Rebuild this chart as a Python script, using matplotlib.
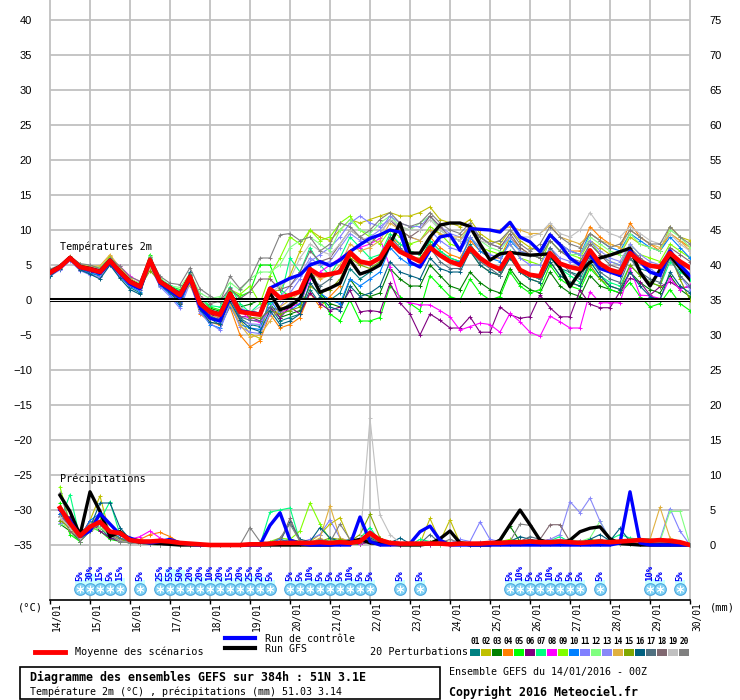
import numpy as np
import matplotlib
matplotlib.use('Agg')
import matplotlib.pyplot as plt
from matplotlib.lines import Line2D
from matplotlib.patches import Rectangle

W, H = 740, 700
MONO = 'DejaVu Sans Mono'

days = ['14/01', '15/01', '16/01', '17/01', '18/01', '19/01', '20/01', '21/01', '22/01',
        '23/01', '24/01', '25/01', '26/01', '27/01', '28/01', '29/01', '30/01']

member_colors = ['#008080', '#c0c000', '#008000', '#ff8000', '#00ff00', '#800080', '#00ff80',
                 '#ff00ff', '#80ff00', '#0080ff', '#8080ff', '#80ff80', '#8888f8', '#e0b040',
                 '#80a800', '#006080', '#507080', '#806870', '#c0c0c0', '#808080']

# temperature 2m, every 6h from 14/01 00Z (65 values)
t_mean = [3.9, 4.7, 6.0, 4.7, 4.4, 4.0, 5.6, 4.0, 2.6, 1.9, 5.7, 2.6, 1.7, 0.7, 3.3, -0.5, -1.7, -2.1, 0.9, -1.7, -1.9, -2.1,
          1.6, 0.3, 0.7, 1.2, 4.4, 3.5, 3.7, 4.0, 6.8, 5.5, 5.2, 6.0, 8.3, 6.9, 6.2, 5.5, 7.5, 6.4, 5.5, 5.0, 7.4,
          6.0, 5.0, 4.4, 6.7, 4.3, 3.6, 3.4, 6.7, 5.2, 4.7, 4.4, 7.1, 5.2, 4.3, 3.9, 6.7, 5.5, 4.9, 4.7, 6.7, 5.5, 4.6]
t_ctrl = [3.8, 4.6, 6.0, 4.6, 4.3, 3.8, 5.4, 3.8, 2.3, 1.6, 5.5, 2.4, 1.4, 0.3, 3.0, -1.0, -2.6, -3.0, 0.5, -1.5, -1.8, -2.0,
          1.7, 2.4, 3.1, 3.6, 5.0, 5.5, 4.9, 5.7, 6.9, 7.9, 8.8, 9.3, 10.0, 9.7, 5.4, 4.7, 7.1, 9.0, 9.3, 7.1, 10.2,
          10.1, 10.0, 9.7, 11.1, 9.0, 8.3, 6.9, 9.3, 7.9, 6.0, 5.0, 6.5, 4.5, 4.0, 3.5, 7.0, 5.5, 4.0, 3.5, 7.0, 5.0, 3.5]
t_gfs = [4.0, 4.8, 6.1, 4.8, 4.5, 4.1, 5.7, 4.1, 2.7, 2.0, 5.8, 2.7, 1.8, 0.8, 3.4, -0.4, -1.6, -2.0, 1.0, -1.6, -1.8, -2.0,
         1.0, -1.4, -0.9, 0.2, 3.9, 1.1, 1.7, 2.4, 5.7, 3.7, 4.2, 5.0, 7.9, 11.0, 6.7, 6.7, 9.0, 10.7, 11.0, 11.0, 10.5,
         8.0, 5.7, 6.6, 6.8, 6.6, 6.4, 6.5, 6.6, 4.6, 1.9, 4.0, 5.4, 6.0, 6.4, 6.9, 7.4, 4.0, 2.0, 4.3, 6.4, 4.6, 2.9]

t01 = [3.5, 4.9, 6.1, 4.5, 3.9, 3.4, 5.3, 3.5, 1.8, 1.0, 5.0, 2.0, 1.1, -0.3, 3.6, -1.2, -2.6, -3.6, 0.2, -2.6, -3.5, -3.8] + \
      [-1.0, -3.0, -2.5, -2.0, 1.5, -0.5, 0.0, 1.0, 4.5, 3.0, 4.0, 5.5, 8.0, 7.0, 6.0, 5.5, 8.5, 7.0, 6.0, 5.5,
       8.0, 6.0, 5.0, 4.0, 6.5, 4.5, 3.5, 3.0, 6.0, 4.5, 4.0, 3.5, 6.5, 5.0, 4.0, 3.5, 6.0, 4.5, 4.0, 3.5, 6.0, 4.5, 3.0]
t02 = [4.2, 4.8, 6.2, 5.0, 4.8, 4.6, 6.3, 4.4, 3.0, 2.3, 4.9, 2.9, 1.9, 0.4, 2.1, -0.9, -2.3, -2.0, -0.6, -2.9, -4.8, -5.5] + \
      [1.0, 1.5, 3.5, 7.0, 10.0, 9.0, 8.5, 10.0, 11.5, 11.0, 11.5, 12.0, 12.5, 12.0, 12.0, 12.5, 13.3, 11.5, 11.0, 10.5,
       11.5, 9.5, 8.5, 8.0, 10.0, 8.5, 7.5, 7.0, 9.5, 8.0, 7.0, 6.5, 8.5, 7.5, 6.5, 6.5, 9.0, 8.0, 7.5, 7.0, 10.5, 9.0, 8.5]
t03 = [4.0, 4.6, 5.9, 4.9, 4.6, 3.7, 5.4, 3.8, 2.4, 1.8, 5.6, 2.5, 1.5, 1.0, 3.8, 0.0, -1.2, -1.6, 1.2, -1.0, -0.6, 0.0] + \
      [-0.5, -2.5, -2.0, -1.5, 5.0, 1.0, -0.5, -1.0, 3.0, 1.0, 0.5, 1.0, 4.5, 3.0, 2.0, 2.0, 5.0, 3.5, 2.0, 1.5,
       4.0, 2.5, 1.5, 1.0, 4.5, 2.5, 1.5, 1.0, 4.0, 2.0, 1.0, 0.5, 3.5, 2.0, 1.5, 1.0, 4.0, 2.5, 1.5, 1.0, 3.5, 1.5, 0.5]
t04 = [4.1, 4.5, 5.8, 4.6, 4.2, 4.1, 5.8, 4.2, 2.9, 2.1, 5.4, 2.8, 1.2, -0.6, 2.9, -2.0, -3.1, -3.6, -1.0, -5.0, -6.7, -5.8] + \
      [-2.0, -4.0, -3.5, -2.5, 1.0, -1.0, 0.5, 2.0, 6.5, 5.0, 5.5, 6.0, 9.0, 8.0, 7.0, 6.5, 9.0, 7.5, 6.5, 6.0,
       8.5, 7.0, 6.0, 6.0, 9.0, 7.5, 6.5, 6.0, 9.5, 8.0, 7.0, 7.0, 10.5, 9.0, 8.0, 7.5, 11.0, 9.0, 8.0, 7.0, 9.5, 8.5, 7.5]
t05 = [3.8, 4.7, 6.2, 4.9, 4.5, 4.3, 5.5, 4.1, 2.5, 2.0, 6.5, 2.4, 1.9, 1.5, 3.4, 0.2, -1.0, -1.4, 1.4, 0.5, 1.2, 5.0] + \
      [5.0, 1.5, 0.5, -1.0, 4.0, 1.0, -2.0, -3.0, 0.0, -3.0, -3.0, -2.5, 2.0, 0.5, -0.5, -1.5, 3.5, 2.0, 0.5, 0.0,
       3.0, 1.0, 0.0, 0.5, 4.0, 2.0, 1.0, 1.5, 5.0, 3.0, 2.0, 1.5, 4.5, 3.0, 1.5, 1.0, 2.5, 0.5, -1.0, -0.5, 1.5, -0.5, -1.5]
t06 = [3.7, 4.6, 5.9, 4.3, 4.0, 3.9, 5.2, 3.7, 2.2, 1.5, 5.2, 2.2, 1.0, 0.0, 2.8, -1.0, -2.0, -2.6, 0.5, -2.4, -2.4, -3.0] + \
      [-1.0, -2.5, -1.0, -2.0, 1.0, -0.5, -1.5, -1.0, 1.4, -1.7, -1.5, -1.7, 2.4, -0.4, -2.0, -5.0, -2.0, -2.9, -4.0, -4.0,
       -2.4, -4.6, -4.6, -1.0, -2.1, -2.6, -2.4, 0.7, -1.1, -2.4, -2.4, 1.4, -0.6, -1.1, -1.1, 1.2, 3.1, 2.6, 0.7, 1.9, 2.6, 1.7, 1.9]
t07 = [3.9, 4.8, 6.0, 4.8, 4.6, 3.8, 5.7, 4.3, 2.7, 2.2, 6.0, 3.0, 2.1, 1.2, 3.6, 0.3, -0.8, -1.0, 1.9, -0.5, -1.8, -0.5] + \
      [-0.5, 0.0, 6.0, 4.0, 7.5, 5.0, 3.5, 6.0, 9.0, 7.5, 6.0, 6.5, 9.5, 8.0, 7.0, 6.5, 8.5, 7.0, 6.0, 5.5,
       7.5, 6.0, 5.0, 4.5, 7.0, 4.5, 3.5, 3.0, 6.5, 4.5, 3.5, 2.5, 5.5, 3.5, 2.5, 2.0, 5.0, 3.5, 2.5, 2.0, 5.5, 4.0, 3.0]
t08 = [4.0, 4.7, 6.1, 4.9, 4.7, 4.4, 5.9, 4.8, 3.4, 2.6, 5.9, 2.7, 1.5, 0.9, 3.2, -0.6, -1.8, -2.5, 0.7, -1.5, -2.8, -3.2] + \
      [-1.5, -2.0, -1.0, -0.5, 3.0, 4.0, 5.0, 6.0, 7.0, 7.5, 8.0, 8.8, 4.7, 0.0, -0.4, -0.7, -0.7, -1.5, -2.4, -4.3,
       -3.8, -3.3, -3.5, -4.6, -1.9, -3.1, -4.6, -5.2, -2.3, -3.1, -4.0, -4.0, 1.2, -0.4, -0.4, -0.4, 4.6, 0.7, 0.6, 0.2, 3.1, 1.5, 2.1]
t09 = [4.3, 4.9, 5.8, 5.0, 4.9, 4.5, 6.1, 4.6, 2.9, 2.3, 6.2, 3.1, 1.8, 0.6, 3.0, -0.3, -1.6, -1.8, 1.5, 0.8, 2.0, -0.5] + \
      [3.5, 6.0, 9.0, 8.0, 10.0, 8.5, 9.0, 11.0, 12.0, 10.0, 9.0, 8.0, 10.0, 9.0, 8.0, 8.5, 10.5, 9.5, 8.0, 7.5,
       9.0, 7.5, 7.0, 6.5, 8.0, 6.0, 5.5, 5.0, 8.5, 7.0, 6.5, 6.0, 8.5, 6.5, 5.5, 5.0, 8.0, 6.5, 6.0, 5.5, 8.0, 7.0, 6.0]
t10 = [3.6, 4.4, 5.7, 4.4, 3.8, 3.6, 5.1, 3.3, 2.0, 1.2, 5.1, 2.1, 0.8, -0.9, 3.0, -1.5, -3.5, -4.0, -0.8, -3.5, -4.0, -4.2] + \
      [0.0, -2.0, -1.5, -0.5, 3.5, 1.0, 0.0, -0.5, 3.0, 2.0, 3.0, 4.0, 7.5, 6.0, 5.0, 5.0, 8.0, 6.5, 5.5, 5.5,
       9.0, 7.0, 6.0, 5.5, 8.5, 7.0, 6.5, 6.0, 9.5, 8.0, 7.0, 6.5, 9.5, 8.5, 7.5, 7.0, 9.5, 8.5, 7.5, 7.0, 9.0, 7.5, 6.0]
t11 = [3.4, 4.3, 5.6, 4.2, 3.6, 3.3, 5.0, 3.4, 2.1, 1.4, 4.8, 1.9, 0.5, -1.2, 2.4, -1.8, -3.3, -4.3, -0.5, -3.8, -4.6, -4.8] + \
      [-2.0, -1.0, 1.0, 3.0, 5.5, 6.5, 7.5, 9.0, 11.0, 12.0, 11.0, 10.5, 11.5, 10.0, 9.0, 8.5, 10.0, 8.5, 7.5, 7.0,
       9.0, 7.5, 6.5, 6.0, 8.0, 6.0, 5.0, 5.0, 7.5, 6.0, 5.5, 5.0, 8.0, 6.5, 5.5, 5.0, 7.5, 5.5, 4.5, 3.5, 6.0, 3.5, 1.5]
t12 = [4.1, 4.9, 6.1, 5.1, 4.9, 4.7, 6.0, 4.5, 3.0, 2.4, 6.3, 3.2, 2.0, 1.8, 3.8, 1.0, 0.2, 0.5, 2.5, 1.4, 3.0, 4.0] + \
      [4.0, 5.0, 7.5, 8.5, 9.0, 8.0, 7.0, 10.0, 11.5, 10.0, 9.5, 11.0, 12.0, 10.5, 10.0, 11.0, 12.0, 10.0, 9.0, 8.5,
       10.5, 8.5, 7.5, 7.0, 9.0, 7.0, 6.5, 6.0, 8.5, 7.0, 6.5, 6.5, 9.0, 8.0, 7.0, 6.5, 9.5, 8.0, 7.5, 7.0, 10.0, 9.0, 7.5]
t13 = [3.8, 4.6, 5.9, 4.7, 4.3, 3.9, 5.5, 3.9, 2.5, 1.9, 5.5, 2.4, 1.4, 0.3, 3.1, -0.8, -2.6, -3.2, 0.0, -3.0, -3.4, -3.5] + \
      [-1.0, 0.5, 2.0, 3.5, 6.0, 5.0, 5.5, 7.5, 9.5, 8.5, 9.0, 10.0, 12.0, 11.0, 10.5, 10.5, 12.0, 10.5, 9.5, 9.0,
       10.5, 9.0, 8.0, 7.5, 9.0, 7.0, 6.5, 6.5, 9.5, 8.0, 7.0, 6.5, 8.5, 7.0, 6.0, 5.5, 8.0, 6.5, 5.5, 5.0, 7.5, 5.0, 3.5]
t14 = [4.2, 4.8, 6.3, 5.1, 4.8, 4.9, 6.5, 4.6, 3.1, 2.2, 4.6, 2.8, 1.6, 0.5, 2.2, -1.0, -2.4, -2.4, -0.5, -3.5, -5.3, -5.0] + \
      [-3.0, -1.0, 0.0, 1.0, 4.0, 3.0, 3.5, 5.0, 8.0, 7.0, 7.5, 8.5, 11.0, 10.0, 9.0, 8.5, 10.0, 9.5, 9.0, 9.0,
       10.5, 10.0, 10.0, 10.0, 10.5, 10.0, 9.5, 9.5, 10.7, 9.0, 8.5, 8.0, 9.5, 8.5, 8.0, 7.5, 10.0, 9.0, 8.0, 7.5, 9.5, 8.5, 7.0]
t15 = [3.9, 4.6, 5.9, 4.6, 4.4, 4.2, 5.6, 4.1, 2.6, 1.8, 4.2, 2.6, 1.7, 0.8, 3.3, -0.2, -1.3, -2.3, 1.0, -1.2, -2.5, -2.6] + \
      [-1.5, -2.0, -1.5, -1.0, 2.0, 1.0, 1.5, 3.0, 6.0, 5.0, 4.5, 5.5, 8.5, 7.0, 6.0, 6.0, 8.0, 6.5, 5.5, 5.0,
       7.0, 5.0, 4.0, 3.5, 6.0, 4.0, 3.0, 2.5, 5.5, 3.5, 2.5, 2.0, 5.0, 3.0, 2.0, 1.5, 5.0, 3.5, 2.5, 2.0, 6.5, 3.0, 0.0]
t16 = [3.4, 4.5, 5.8, 4.3, 3.7, 3.0, 5.0, 3.1, 1.5, 0.8, 5.8, 2.3, 1.1, -0.6, 4.0, -1.3, -3.2, -3.4, -0.2, -2.8, -4.0, -4.5] + \
      [-1.5, -3.5, -3.0, -2.0, 2.5, 0.5, -1.0, -1.5, 2.0, 0.5, 1.0, 2.0, 5.5, 4.0, 3.5, 3.0, 6.0, 4.5, 4.0, 4.0,
       7.0, 5.0, 4.0, 3.5, 6.0, 4.0, 3.0, 2.5, 5.5, 3.5, 2.5, 2.0, 5.5, 3.5, 2.0, 1.5, 4.0, 2.0, 0.5, 0.0, 4.0, 2.0, 1.0]
t17 = [3.7, 4.7, 6.0, 4.6, 4.1, 3.9, 5.3, 3.9, 2.3, 1.7, 5.6, 2.7, 1.5, -0.4, 3.5, -0.6, -2.3, -2.8, 0.3, -2.4, -2.9, -3.0] + \
      [-1.0, -1.5, -0.5, 0.5, 3.5, 2.0, 3.0, 4.5, 7.0, 5.5, 5.0, 6.0, 9.0, 7.5, 6.0, 5.5, 7.5, 5.5, 4.5, 4.5,
       7.0, 5.5, 4.5, 3.5, 6.5, 4.5, 3.5, 3.0, 7.5, 5.5, 4.0, 3.0, 6.0, 4.0, 3.0, 2.5, 6.0, 4.0, 3.0, 2.5, 6.0, 3.5, 2.0]
t18 = [4.0, 4.8, 6.1, 4.8, 4.5, 4.1, 5.6, 4.1, 2.8, 2.0, 5.8, 2.9, 1.8, 1.2, 3.7, 0.6, -0.5, -0.2, 1.7, 0.2, 1.2, 3.0] + \
      [3.0, 1.5, 2.0, 4.0, 7.0, 5.5, 6.0, 8.0, 10.0, 9.0, 8.0, 9.5, 11.5, 10.0, 9.0, 10.0, 12.0, 10.5, 9.0, 8.5,
       10.0, 9.0, 8.0, 7.5, 9.5, 7.5, 6.5, 6.0, 8.5, 7.0, 6.0, 5.5, 8.0, 6.5, 5.0, 4.5, 7.5, 6.0, 5.0, 4.5, 7.5, 6.5, 5.5]
t19 = [3.9, 4.6, 6.0, 4.7, 4.3, 3.9, 5.4, 3.8, 2.4, 1.6, 5.9, 2.4, 1.6, 0.9, 3.4, 0.4, -1.5, -1.9, 0.8, -1.0, -1.8, -1.0] + \
      [1.0, 2.0, 3.0, 6.0, 8.0, 7.0, 6.5, 8.0, 10.0, 9.0, 8.5, 9.5, 11.5, 10.5, 10.0, 10.0, 11.5, 10.0, 9.0, 8.5,
       10.0, 8.5, 8.0, 8.5, 10.0, 9.0, 9.0, 9.5, 11.0, 9.5, 9.0, 10.0, 12.5, 10.5, 9.5, 9.0, 10.5, 9.5, 8.5, 8.0, 9.5, 8.0, 7.0]
t20 = [4.4, 5.0, 6.2, 5.2, 5.0, 4.5, 6.0, 4.8, 3.3, 2.7, 6.1, 3.4, 2.4, 2.2, 4.6, 1.6, 0.6, -0.3, 3.4, 1.6, 3.0, 6.0] + \
      [6.0, 9.3, 9.5, 8.5, 9.0, 7.0, 8.0, 11.0, 10.5, 9.0, 10.0, 11.5, 12.5, 11.0, 10.5, 11.0, 12.5, 11.0, 10.0, 9.5,
       11.0, 9.0, 8.0, 8.5, 10.0, 8.0, 7.0, 8.0, 10.5, 9.0, 8.0, 7.5, 9.5, 8.5, 7.5, 8.0, 10.0, 9.0, 8.0, 8.0, 10.5, 9.0, 8.0]
t_members = [t01, t02, t03, t04, t05, t06, t07, t08, t09, t10, t11, t12, t13, t14, t15, t16, t17, t18, t19, t20]

# precipitation (mm / 6h), from 14/01 06Z (64 values)
p_mean = [5.3, 3.1, 1.3, 2.6, 3.3, 1.9, 1.7, 0.7, 0.5, 0.5, 0.6, 0.5, 0.3, 0.2, 0.1, 0.0, 0.0, 0.0, 0.0, 0.1,
          0.1, 0.2, 0.3, 0.3, 0.3, 0.3, 0.4, 0.3, 0.4, 0.3, 0.5, 1.7, 0.7, 0.3, 0.2, 0.2, 0.2, 0.2, 0.2, 0.1,
          0.2, 0.2, 0.2, 0.3, 0.3, 0.4, 0.4, 0.5, 0.4, 0.4, 0.5, 0.4, 0.3, 0.4, 0.5, 0.4, 0.5, 0.6, 0.7, 0.6,
          0.7, 0.6, 0.4, 0.0]
p_ctrl = [5.0, 3.5, 1.2, 2.0, 4.5, 3.0, 1.5, 1.0, 0.5, 0.3, 0.5, 0.8, 0.3, 0.1, 0, 0, 0, 0, 0, 0,
          0, 2.8, 4.6, 0.7, 0.2, 0, 0, 0, 0, 0, 4.0, 0.5, 0, 0, 0.1, 0.2, 1.9, 2.7, 0.7, 0,
          0, 0, 0, 0, 0, 0, 0, 0, 0, 0, 0, 0, 0, 0, 0, 0, 0.3, 7.6, 0.3, 0, 0, 0, 0, 0]
p_gfs = [7.1, 4.8, 1.4, 7.6, 4.8, 1.2, 1.9, 0.7, 0.4, 0.3, 0.2, 0.1, 0, 0, 0, 0, 0, 0, 0, 0,
         0, 0, 0, 0, 0, 0, 0, 0, 0.2, 0.5, 0.8, 0.3, 0.2, 0.1, 0, 0, 0, 0.2, 0.9, 2.0,
         0.3, 0, 0, 0, 0.7, 2.9, 5.0, 2.9, 0.7, 0.3, 0.2, 0.7, 1.9, 2.4, 2.6, 0.9, 0.2, 0.1, 0, 0, 0, 0, 0, 0]

p01 = [4.5, 3.5, 1.5, 3.0, 2.5, 1.0, 0.8, 0.5, 0.3, 0.5, 0.3, 0.2, 0.1, 0, 0, 0, 0, 0, 0, 0,
       0, 0.2, 0.5, 0.3, 0.2, 0.1, 0.3, 0.2, 0.5, 0.8, 0.4, 2.0, 0.5, 0.2, 0, 0, 0.3, 0.5, 0.2, 0,
       0, 0, 0.2, 0.4, 0.3, 0.5, 0.3, 0.2, 0.4, 0.5, 0.8, 0.4, 0.3, 0.5, 0.3, 0.2, 0.5, 0.4, 0.6, 0.3, 0.2, 0.3, 0.2, 0]
p02 = [5.5, 2.5, 1.0, 3.5, 7.0, 1.5, 0.5, 0.3, 0.2, 0.3, 0.2, 0.1, 0, 0, 0, 0, 0, 0, 0, 0,
       0, 0.3, 0.5, 0.2, 0.3, 0.5, 1.5, 3.0, 3.9, 0.6, 0.3, 1.0, 1.0, 0.3, 0, 0, 0.2, 3.8, 0.5, 3.6,
       0.3, 0, 0, 0.2, 0.3, 0.2, 0.4, 0.3, 0.2, 0.5, 0.3, 0.2, 0.2, 0.3, 0.2, 0.4, 0.3, 0.5, 0.3, 0.2, 0.4, 0.5, 0.3, 0]
p03 = [3.0, 2.0, 0.5, 2.0, 3.0, 1.5, 0.6, 0.3, 0.2, 0.2, 0.1, 0, 0, 0, 0, 0, 0, 0, 0, 0,
       0, 0, 0.5, 0.8, 0.5, 0.3, 0.2, 0.5, 0.3, 0.2, 0.1, 0.5, 0.3, 0.2, 0.1, 0, 0.2, 0.4, 0.3, 0.2,
       0.5, 0.3, 0.2, 0.2, 0.4, 2.7, 0.5, 0.3, 0.2, 0.3, 0.2, 0.1, 0.3, 0.2, 0.3, 0.2, 0.1, 0.2, 0.1, 0.3, 0.2, 0.1, 0.2, 0]
p04 = [4.0, 2.5, 1.0, 2.0, 2.5, 1.5, 2.0, 1.0, 0.8, 1.5, 1.8, 1.2, 0.3, 0, 0, 0, 0, 0, 0, 0,
       0, 0, 0.3, 0.2, 0.1, 0.2, 0.8, 0.4, 0.3, 0.2, 0.5, 1.0, 0.4, 0.2, 0, 0, 0.1, 0.2, 0.1, 0,
       0, 0.1, 0.2, 0.1, 0.2, 0.3, 0.2, 0.1, 0.2, 0.4, 0.2, 0.1, 0.2, 0.3, 0.5, 0.2, 0.3, 0.4, 0.3, 0.5, 0.2, 0.3, 0.2, 0]
p05 = [6.0, 1.5, 0.5, 2.5, 2.0, 0.8, 0.5, 0.3, 0.2, 0.1, 0, 0, 0, 0, 0, 0, 0, 0, 0, 0,
       0, 0, 0, 0.3, 0.2, 0.1, 0.2, 0.3, 0.1, 0.3, 0.2, 0.6, 0.2, 0.1, 0, 0, 0, 0.1, 0, 0,
       0, 0, 0, 0, 0.1, 0.2, 0.3, 0.5, 0.3, 0.2, 0.1, 0.3, 0.2, 0.1, 0.2, 0.1, 0.3, 0.4, 0.2, 0.1, 0.2, 0.1, 0.1, 0]
p06 = [4.5, 4.0, 1.2, 3.5, 2.0, 1.0, 0.5, 0.4, 0.3, 0.2, 0.1, 0, 0, 0, 0, 0, 0, 0, 0, 0,
       0, 0, 0.2, 0.4, 0.3, 0.2, 0.4, 0.3, 0.2, 0.3, 0.2, 0.4, 0.2, 0.1, 0, 0, 0, 0, 0.2, 0.1,
       0, 0, 0, 0.2, 0.1, 0.2, 0.4, 0.3, 0.5, 0.8, 0.5, 0.3, 0.6, 0.3, 0.2, 0.4, 0.5, 0.4, 0.3, 0.5, 0.3, 0.4, 0.2, 0]
p07 = [3.5, 7.2, 1.0, 2.5, 3.5, 6.2, 1.5, 0.5, 0.3, 0.2, 0.1, 0, 0, 0, 0, 0, 0, 0, 0, 0,
       0, 4.7, 5.0, 5.3, 0.5, 0.3, 0.2, 0.8, 0.5, 0.3, 1.0, 2.5, 0.5, 0.4, 0.2, 0, 0.8, 0.5, 0.2, 0.1,
       0, 0.2, 0.3, 0.1, 0.3, 0.5, 0.4, 0.8, 0.5, 0.6, 1.2, 0.4, 0.3, 0.4, 0.5, 0.8, 1.5, 1.0, 0.8, 0.9, 0.6, 0.8, 0.4, 0]
p08 = [4.0, 3.0, 1.0, 2.8, 3.0, 1.5, 0.5, 0.8, 1.2, 2.0, 1.0, 0.5, 0.2, 0, 0, 0, 0, 0, 0, 0,
       0, 0, 0, 0.2, 0.3, 0.1, 0.2, 0.5, 0.3, 0.4, 0.2, 0.5, 0.2, 0.1, 0, 0, 0, 0, 0.1, 0,
       0, 0, 0, 0, 0.2, 0.3, 0.2, 0.5, 0.6, 0.4, 0.3, 0.2, 0.4, 0.3, 0.6, 0.3, 0.5, 0.3, 0.2, 0.4, 0.2, 0.3, 0.1, 0]
p09 = [8.3, 3.0, 1.5, 3.0, 4.0, 2.0, 1.0, 0.6, 0.4, 0.2, 0.1, 0, 0, 0, 0, 0, 0, 0, 0, 0,
       0, 0.5, 1.0, 0.8, 2.0, 6.0, 3.0, 0.8, 0.5, 0.3, 0.6, 1.2, 0.4, 0.3, 0.1, 0, 0.2, 0.5, 0.8, 0.3,
       0.2, 0.1, 0.3, 0.2, 0.5, 0.8, 0.6, 0.5, 0.4, 0.3, 0.6, 0.5, 0.4, 0.8, 0.6, 0.4, 0.5, 0.7, 0.8, 0.5, 0.4, 0.5, 0.3, 0]
p10 = [4.5, 2.5, 1.0, 3.5, 4.5, 2.0, 1.0, 0.5, 0.4, 0.3, 0.2, 0.1, 0, 0, 0, 0, 0, 0, 0, 0,
       0, 0.3, 0.8, 0.5, 0.3, 0.5, 0.4, 0.3, 0.5, 0.3, 0.8, 1.5, 0.5, 0.3, 0.1, 0, 0.1, 0.2, 0.1, 0,
       0, 0, 0, 0.1, 0.2, 0.3, 0.5, 0.3, 0.4, 0.2, 0.3, 0.5, 0.3, 0.4, 0.3, 0.2, 0.3, 0.5, 0.4, 0.3, 0.2, 0.3, 0.2, 0]
p11 = [3.5, 3.0, 1.5, 2.5, 3.0, 1.5, 0.8, 0.5, 0.3, 0.2, 0.1, 0, 0, 0, 0, 0, 0, 0, 0, 0,
       0, 0, 0.3, 0.5, 0.4, 0.8, 1.5, 3.6, 1.0, 0.5, 0.8, 2.0, 0.6, 0.3, 0.1, 0, 0.2, 0.5, 0.4, 0.3,
       0.8, 0.5, 3.3, 0.8, 0.5, 0.3, 0.4, 0.5, 0.3, 0.5, 0.8, 0.6, 0.4, 0.3, 0.4, 0.3, 0.5, 0.4, 0.6, 0.5, 0.8, 5.2, 2.0, 0]
p12 = [3.0, 2.5, 1.0, 2.0, 2.5, 1.5, 0.5, 0.3, 0.2, 0.1, 0, 0, 0, 0, 0, 0, 0, 0, 0, 0,
       0, 0.2, 0.3, 0.5, 0.3, 0.4, 0.3, 0.5, 0.4, 0.3, 0.5, 0.8, 0.3, 0.2, 0.1, 0, 0.1, 0.3, 0.2, 0.1,
       0, 0.1, 0.2, 0.1, 0.2, 0.3, 0.4, 0.3, 0.5, 0.4, 0.3, 0.8, 0.5, 1.0, 3.4, 0.8, 0.4, 0.5, 0.8, 0.6, 0.5, 4.8, 4.8, 0]
p13 = [3.2, 2.8, 1.2, 2.2, 3.2, 1.8, 0.7, 0.4, 0.3, 0.2, 0.1, 0, 0, 0, 0, 0, 0, 0, 0, 0,
       0, 0.1, 0.2, 0.4, 0.3, 0.5, 0.6, 0.4, 0.3, 0.5, 0.4, 0.7, 0.3, 0.2, 0.1, 0, 0.1, 0.3, 0.2, 0.1,
       0.2, 0.3, 0.4, 0.3, 0.2, 0.4, 0.3, 0.5, 0.4, 0.8, 1.5, 6.2, 4.6, 6.7, 3.4, 0.8, 0.5, 0.4, 0.3, 0.4, 0.3, 0.5, 0.3, 0]
p14 = [4.0, 2.0, 1.5, 3.0, 4.5, 2.0, 0.8, 0.5, 0.3, 0.5, 0.8, 0.4, 0.2, 0, 0, 0, 0, 0, 0, 0,
       0, 0, 0.2, 0.3, 0.2, 0.3, 1.0, 5.6, 1.0, 0.5, 0.3, 1.5, 0.8, 0.3, 0.1, 0, 0.2, 0.4, 0.3, 0.2,
       0.1, 0, 0.2, 0.1, 0.3, 0.4, 0.3, 0.2, 0.4, 0.5, 0.4, 0.3, 0.2, 0.4, 0.3, 0.5, 0.6, 0.5, 0.4, 0.8, 5.4, 1.0, 0.5, 0]
p15 = [3.5, 2.5, 1.0, 2.5, 3.5, 1.5, 0.8, 0.4, 0.3, 0.2, 0.1, 0, 0, 0, 0, 0, 0, 0, 0, 0,
       0, 0.2, 0.3, 0.2, 0.3, 0.4, 0.5, 1.0, 0.8, 0.5, 1.5, 4.4, 1.0, 0.4, 0.1, 0, 0.1, 0.2, 0.3, 0.1,
       0, 0.1, 0.2, 0.1, 0.3, 0.2, 0.4, 0.3, 0.2, 0.3, 0.4, 0.3, 0.2, 0.3, 0.5, 0.3, 0.4, 0.3, 0.2, 0.4, 0.3, 0.2, 0.3, 0]
p16 = [5.0, 3.5, 2.0, 2.5, 6.0, 6.0, 2.5, 0.8, 0.4, 0.3, 0.1, 0, 0, 0, 0, 0, 0, 0, 0, 0,
       0, 0, 0.5, 3.3, 0.8, 0.5, 2.5, 1.0, 0.5, 0.3, 0.5, 1.0, 0.4, 0.3, 1.0, 0.2, 0.1, 0.2, 0.1, 0,
       0, 0.2, 0.3, 0.2, 0.3, 0.5, 1.2, 0.8, 0.5, 0.3, 0.4, 0.5, 0.3, 0.8, 1.5, 0.6, 2.4, 0.5, 0.3, 0.4, 0.2, 0.3, 0.2, 0]
p17 = [4.2, 3.0, 1.3, 3.0, 3.0, 1.8, 1.0, 0.4, 0.2, 0.1, 0, 0, 0, 0, 0, 0, 0, 0, 0, 0,
       0, 0.2, 0.4, 0.3, 0.2, 0.3, 0.4, 0.3, 0.2, 0.5, 0.3, 0.8, 0.3, 0.2, 0.1, 0, 0.2, 1.5, 0.3, 0.2,
       0.1, 0, 0.2, 0.1, 0.2, 0.3, 0.5, 1.2, 0.8, 0.5, 0.3, 0.4, 0.2, 0.5, 0.8, 0.4, 0.3, 0.5, 0.4, 0.3, 0.2, 0.3, 0.2, 0]
p18 = [5.0, 2.0, 0.8, 2.5, 3.5, 1.5, 0.6, 0.3, 0.2, 0.1, 0, 0, 0, 0, 0, 0, 0, 0, 0, 0,
       0, 0.3, 0.5, 3.8, 0.6, 0.4, 0.3, 0.5, 0.4, 0.3, 0.5, 0.6, 0.3, 0.2, 0.1, 0, 0.1, 0.2, 0.1, 0,
       0, 0.1, 0.2, 0.3, 0.2, 0.5, 0.6, 0.5, 0.8, 2.9, 2.9, 0.5, 0.4, 0.3, 0.5, 0.4, 0.3, 0.5, 0.4, 0.3, 0.5, 0.3, 0.2, 0]
p19 = [4.0, 2.5, 1.0, 3.0, 3.0, 1.5, 0.6, 0.3, 0.2, 0.1, 0, 0, 0, 0, 0, 0, 0, 0, 0, 0,
       0, 0, 0.2, 0.4, 0.3, 0.2, 0.3, 0.5, 0.3, 0.5, 0.5, 18.1, 4.3, 1.5, 0.3, 0.1, 0.2, 0.3, 0.2, 0.1,
       0, 0.1, 0.2, 0.1, 0.2, 0.3, 0.2, 0.4, 0.3, 0.2, 0.3, 0.4, 0.3, 0.2, 0.4, 0.3, 0.2, 0.3, 0.4, 0.3, 0.2, 0.3, 0.2, 0]
p20 = [7.5, 3.0, 0.5, 2.0, 3.0, 1.5, 0.5, 0.3, 0.3, 0.2, 0.1, 0, 0, 0, 0, 0, 0, 0, 0, 2.5,
       0.5, 0.3, 1.0, 3.0, 0.5, 0.3, 0.8, 0.4, 3.0, 0.8, 0.5, 1.2, 0.4, 0.3, 0.1, 0, 0.2, 0.4, 0.3, 0.8,
       0.3, 0.2, 0.3, 0.2, 0.3, 0.5, 3.0, 2.8, 0.5, 0.3, 0.4, 0.3, 0.2, 0.4, 0.5, 0.3, 0.4, 0.3, 0.5, 0.4, 0.3, 0.4, 0.2, 0]
p_members = [p01, p02, p03, p04, p05, p06, p07, p08, p09, p10, p11, p12, p13, p14, p15, p16, p17, p18, p19, p20]

# snow probability icons (6h step index, %)
snow_step = [3, 4, 5, 6, 7, 9, 11, 12, 13, 14, 15, 16, 17, 18, 19, 20, 21, 22,
             24, 25, 26, 27, 28, 29, 30, 31, 32, 35, 37, 46, 47, 48, 49, 50, 51, 52, 53, 55, 60, 61, 63]
snow_pct = [5, 30, 15, 5, 15, 5, 25, 55, 50, 20, 20, 10, 20, 15, 20, 25, 20, 5,
            5, 5, 10, 5, 5, 5, 10, 5, 5, 5, 5, 5, 10, 5, 5, 10, 5, 5, 5, 5, 10, 5, 5]

for s in [t_mean, t_ctrl, t_gfs] + t_members:
    assert len(s) == 65, len(s)
for s in [p_mean, p_ctrl, p_gfs] + p_members:
    assert len(s) == 64, len(s)
assert len(snow_step) == len(snow_pct)

PRECIP_ZERO = -35      # precipitation drawn on the right scale, 0 mm = -35 on the left


def yv(ypx):
    return (300 - ypx) / 7.0


def ftext(x, y, s, **kw):
    fig.text(x / W, 1 - y / H, s, **kw)


fig = plt.figure(figsize=(W / 100, H / 100), dpi=100)
ax = fig.add_axes([50 / W, 100 / H, 640 / W, 600 / H])
ylim = 40 + 20 / 7.0
ax.set_xlim(0, 64)
ax.set_ylim(-ylim, ylim)

grid_c = '#c0c0c0'
for v in range(-35, 45, 5):
    ax.axhline(v, color=grid_c, lw=1.3, zorder=0)
for d in range(17):
    ax.axvline(4 * d, color=grid_c, lw=1.3, zorder=0, clip_on=False)

for sp in ['top', 'left', 'right']:
    ax.spines[sp].set_visible(False)
ax.spines['bottom'].set_color('black')
ax.spines['bottom'].set_linewidth(1.2)

ax.set_xticks(range(0, 65, 4))
ax.set_xticklabels([])
ax.tick_params(axis='x', length=3, width=1, color='black', direction='out')
ax.set_yticks(range(-35, 45, 5))
ax.tick_params(axis='y', length=0, pad=13, labelsize=8)
for lab in ax.get_yticklabels():
    lab.set_family('Liberation Sans')

ax2 = ax.twinx()
ax2.set_ylim(-ylim + 35, ylim + 35)
ax2.set_yticks(range(0, 80, 5))
ax2.tick_params(axis='y', length=0, pad=14, labelsize=8)
for lab in ax2.get_yticklabels():
    lab.set_family('Liberation Sans')
for sp in ax2.spines.values():
    sp.set_visible(False)

x_t = np.arange(65)
x_p = np.arange(1, 65)

# perturbations
for c, tv, pv in zip(member_colors, t_members, p_members):
    ax.plot(x_t, tv, color=c, lw=0.8, marker='+', ms=3, mew=0.7, zorder=2)
    ax.plot(x_p, np.array(pv) + PRECIP_ZERO, color=c, lw=0.8, marker='+', ms=3, mew=0.7, zorder=2)

# double zero line
ax.axhline(0, color='black', lw=2.9, zorder=3)
ax.axhline(0, color='white', lw=0.7, zorder=3)

ax.plot(x_t, t_gfs, color='black', lw=2.4, zorder=4)
ax.plot(x_p, np.array(p_gfs) + PRECIP_ZERO, color='black', lw=2.4, zorder=4)
ax.plot(x_t, t_ctrl, color='#0000ff', lw=2.4, zorder=5)
ax.plot(x_p, np.array(p_ctrl) + PRECIP_ZERO, color='#0000ff', lw=2.4, zorder=5)
ax.plot(x_t, t_mean, color='#ff0000', lw=3.3, zorder=6)
ax.plot(x_p, np.array(p_mean) + PRECIP_ZERO, color='#ff0000', lw=3.3, zorder=6)

ax.text(1, yv(247), 'Températures 2m', family=MONO, fontsize=7.3, va='center', ha='left', zorder=7)
ax.text(1, yv(479), 'Précipitations', family=MONO, fontsize=7.3, va='center', ha='left', zorder=7)

# snow icons
for i, p in zip(snow_step, snow_pct):
    top = 585 - (4 + 0.22 * p)
    ax.add_patch(Rectangle((i - 0.5, yv(585)), 1.0, yv(top) - yv(585),
                           facecolor='#c8ffff', edgecolor='none', zorder=1))
    ax.text(i, yv(581), f'{p}%', rotation=90, ha='center', va='bottom', color='#0000ff',
            family=MONO, fontsize=6.5, fontweight='bold', zorder=3)
ax.scatter(snow_step, [yv(589)] * len(snow_step), s=70, c='#88d4f4', edgecolors='#4aa8e0',
           linewidths=0.8, zorder=2, clip_on=False)
ax.scatter(snow_step, [yv(589)] * len(snow_step), s=24, c='white', marker=(6, 2, 0),
           linewidths=0.6, zorder=3, clip_on=False)

# day labels
for d, lab in enumerate(days):
    ftext(50 + 40 * d + 7, 602, lab, rotation=90, ha='center', va='top', family=MONO, fontsize=6.9)
ftext(18, 607, '(°C)', family=MONO, fontsize=7.5, va='center', ha='left')
ftext(710, 607, '(mm)', family=MONO, fontsize=7.5, va='center', ha='left')

# legend
def fline(x0, x1, y, color, lw):
    fig.add_artist(Line2D([x0 / W, x1 / W], [1 - y / H, 1 - y / H], color=color, lw=lw))

fline(35, 65, 652, '#ff0000', 3.5)
ftext(75, 652, 'Moyenne des scénarios', family=MONO, fontsize=7.3, va='center')
fline(225, 255, 638, '#0000ff', 3.0)
ftext(265, 638.5, 'Run de contrôle', family=MONO, fontsize=7.1, va='center')
fline(225, 255, 648, 'black', 3.0)
ftext(265, 648.5, 'Run GFS', family=MONO, fontsize=7.1, va='center')
ftext(370, 652, '20 Perturbations', family=MONO, fontsize=7.3, va='center')
for k, c in enumerate(member_colors):
    x0 = 470 + 11 * k
    fig.add_artist(Rectangle((x0 / W, 1 - 656 / H), 10 / W, 7 / H, facecolor=c, edgecolor='none',
                             transform=fig.transFigure))
    ftext(x0 + 5, 642, f'{k + 1:02d}', family=MONO, fontsize=5.6, fontweight='bold', ha='center', va='center')

# info box
fig.add_artist(Rectangle((20 / W, 1 - 699 / H), 420 / W, 32 / H, facecolor='none', edgecolor='black',
                         lw=1.2, transform=fig.transFigure))
ftext(30, 677, 'Diagramme des ensembles GEFS sur 384h : 51N 3.1E', family=MONO, fontsize=8.4,
      fontweight='bold', va='center')
ftext(30, 692, 'Température 2m (°C) , précipitations (mm) 51.03 3.14', family=MONO, fontsize=7.2, va='center')
ftext(449, 672, 'Ensemble GEFS du 14/01/2016 - 00Z', family=MONO, fontsize=7.2, va='center')
ftext(449, 692, 'Copyright 2016 Meteociel.fr', family=MONO, fontsize=8.4, fontweight='bold', va='center')

fig.savefig('out.png', dpi=100)
